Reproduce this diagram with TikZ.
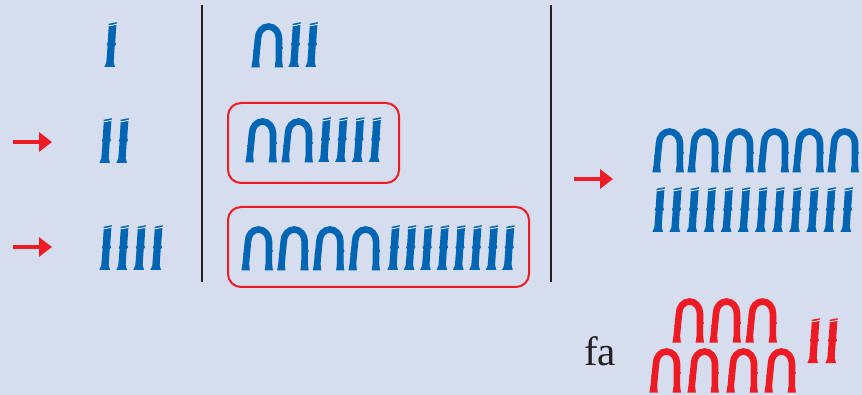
\documentclass[tikz,border=0pt]{standalone}
\usepackage{fontspec}
\setmainfont{Liberation Serif}
\usetikzlibrary{arrows.meta}
\definecolor{bgcol}{RGB}{213,221,238}
\definecolor{eblue}{RGB}{0,101,179}
\definecolor{ered}{RGB}{237,28,36}
\definecolor{ink}{RGB}{35,31,32}
\tikzset{
  uheel/.pic={
    \draw[line width=6.6, line cap=butt] (3.6,41) -- (6,16.5) arc(180:360:10.5 and 12) -- (26.8,41);
    \fill (-0.6,45.5) -- (7.8,45.5) -- (7.2,39.5) -- (0.4,39.5) -- cycle;
    \fill (22.6,45.5) -- (31,45.5) -- (30.1,39.5) -- (23.5,39.5) -- cycle;
    \fill (2.4,27) -- (1,29) -- (2.2,30.5) -- cycle;
    \fill (29.8,24) -- (31.2,26) -- (29.8,27.5) -- cycle;
  },
  ustroke/.pic={
    \fill (4.5,1.8) -- (12.8,0.2) -- (12.2,5) -- (11.2,20) -- (12,22.5) -- (10.7,24)
          -- (9.7,40) -- (11,45) -- (0.3,45) -- (2.3,40.5) -- (3.6,24) -- (2.8,22.5)
          -- (3.7,20.5) -- (4.6,6) -- cycle;
    \draw[white, line width=0.8] (4.4,3.9) -- (12.6,2.4);
  },
  sepline/.style={ink, line width=2.5},
  redarrow/.style={ered, line width=4, -{Triangle[length=13pt 0,width=19pt 0]}},
  redbox/.style={draw=ered, line width=2, rounded corners=13, inner sep=0, fill=none},
}
\begin{document}
\begin{tikzpicture}[x=1pt,y=-1pt]
\fill[bgcol] (0,0) rectangle (862,395);
\useasboundingbox (0,0) rectangle (862,395);

% separator lines
\coordinate (l1t) at (202,5); \coordinate (l1b) at (202,282);
\coordinate (l2t) at (551,5); \coordinate (l2b) at (551,282);
\draw[sepline] (l1t) -- (l1b);
\draw[sepline] (l2t) -- (l2b);

% boxes
\node[redbox, minimum width=171, minimum height=80] (box1) at (313.5,143) {};
\node[redbox, minimum width=301, minimum height=80] (box2) at (378.5,247) {};

% arrows
\coordinate (a1s) at (13,142); \coordinate (a1e) at (52,142);
\coordinate (a2s) at (13,247); \coordinate (a2e) at (52,247);
\coordinate (a3s) at (574,179); \coordinate (a3e) at (613,179);
\draw[redarrow] (a1s) -- (a1e);
\draw[redarrow] (a2s) -- (a2e);
\draw[redarrow] (a3s) -- (a3e);

\begin{scope}[eblue]
% row 1
\pic at (104,22) {ustroke};
\pic at (252,22) {uheel};
\pic at (288,22) {ustroke};
\pic at (305,22) {ustroke};
% row 2
\pic at (99,118) {ustroke};
\pic at (116,118) {ustroke};
\pic at (246,117) {uheel};
\pic at (282,117) {uheel};
\foreach \i in {0,...,3} \pic at (318+16.8*\i,117) {ustroke};
% row 3
\foreach \i in {0,...,3} \pic at (99+17*\i,225) {ustroke};
\foreach \i in {0,...,3} \pic at (242+35.7*\i,225) {uheel};
\foreach \i in {0,...,7} \pic at (387+16.4*\i,225) {ustroke};
% result
\foreach \i in {0,...,5} \pic at (653+35*\i,127) {uheel};
\foreach \i in {0,...,11} \pic at (652+17.1*\i,187) {ustroke};
\end{scope}

% fa
\node[ink, anchor=base west, inner sep=0, font=\fontsize{41}{41}\selectfont] (fa) at (584,365) {fa};

\begin{scope}[ered]
\pic at (673,297) {uheel};
\pic at (710,297) {uheel};
\pic at (746,297) {uheel};
\pic at (650,347) {uheel};
\pic at (688,347) {uheel};
\pic at (727,347) {uheel};
\pic at (765,347) {uheel};
\pic at (807,318) {ustroke};
\pic at (825,318) {ustroke};
\end{scope}
\end{tikzpicture}
\end{document}
